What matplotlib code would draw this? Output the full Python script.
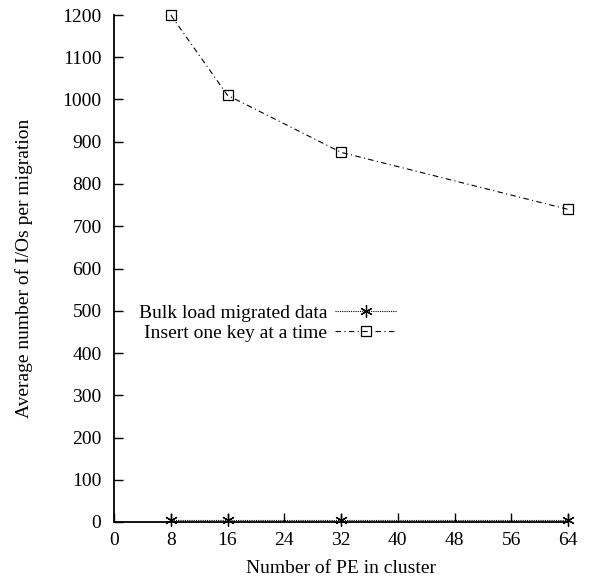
import matplotlib.pyplot as plt

# PE cluster sizes and measured I/Os per migration
pe_counts = [8, 16, 32, 64]
bulk_load_ios = [4, 4, 4, 4]
insert_one_ios = [1200, 1010, 875, 740]

x_ticks = list(range(0, 65, 8))
y_ticks = list(range(0, 1201, 100))

plt.rcParams['font.family'] = ['Liberation Serif', 'DejaVu Serif']
plt.rcParams['font.size'] = 14

fig = plt.figure(figsize=(5.9, 5.82), dpi=100)
ax = fig.add_axes([114 / 590, 60 / 582, 454 / 590, 507 / 582])

ax.plot(pe_counts, bulk_load_ios, color='black', lw=0.8, linestyle=(0, (1, 1)),
        marker=(6, 2, 0), markersize=9, markeredgewidth=0.9, clip_on=False,
        label='Bulk load migrated data')
ax.plot(pe_counts, insert_one_ios, color='black', lw=0.8, linestyle=(0, (5, 3, 1, 3)),
        marker='s', markersize=7, markerfacecolor='none', markeredgewidth=0.9,
        clip_on=False, label='Insert one key at a time')

ax.set_xlim(0, 64)
ax.set_ylim(0, 1200)
ax.set_xticks(x_ticks)
ax.set_yticks(y_ticks)
ax.tick_params(direction='in', length=6.5, width=1)
ax.tick_params(axis='y', pad=9)
ax.tick_params(axis='x', pad=7)
for side in ('top', 'right'):
    ax.spines[side].set_visible(False)
for side in ('left', 'bottom'):
    ax.spines[side].set_linewidth(1.3)

ax.set_xlabel('Number of PE in cluster', labelpad=8)
ax.set_ylabel('Average number of I/Os per migration')
ax.yaxis.set_label_coords(-0.178, 0.5)

ax.legend(loc='center right', bbox_to_anchor=(407 / 590, 259 / 582),
          bbox_transform=fig.transFigure, frameon=False, markerfirst=False,
          numpoints=1, handlelength=3.2, handletextpad=0.4, labelspacing=0.1,
          borderpad=0)

fig.savefig('out.png', dpi=100)
